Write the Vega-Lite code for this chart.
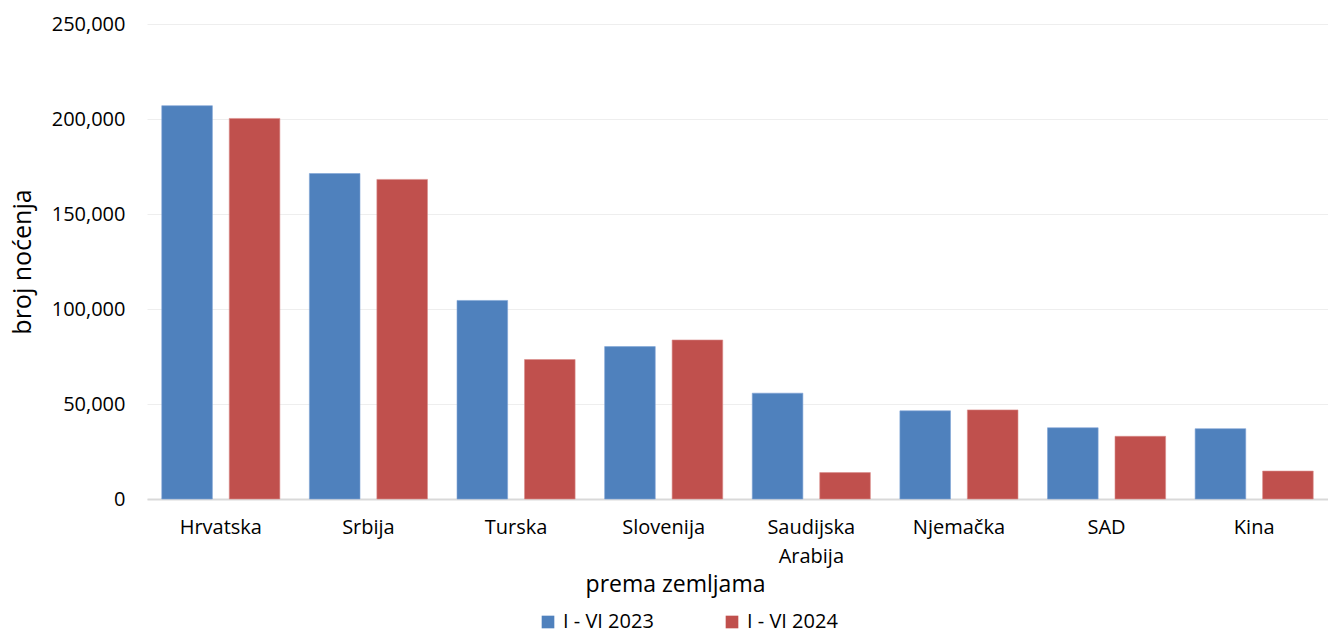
{
  "$schema": "https://vega.github.io/schema/vega-lite/v6.json",
  "autosize": "none",
  "width": 1181,
  "height": 475,
  "padding": {"left": 147, "top": 24, "right": 0, "bottom": 136},
  "background": "white",
  "config": {
    "font": "Open Sans",
    "view": {"stroke": null}
  },
  "data": {
    "values": [
      {"country": "Hrvatska", "period": "I - VI 2023", "value": 207000},
      {"country": "Hrvatska", "period": "I - VI 2024", "value": 200300},
      {"country": "Srbija", "period": "I - VI 2023", "value": 171300},
      {"country": "Srbija", "period": "I - VI 2024", "value": 168200},
      {"country": "Turska", "period": "I - VI 2023", "value": 104500},
      {"country": "Turska", "period": "I - VI 2024", "value": 73400},
      {"country": "Slovenija", "period": "I - VI 2023", "value": 80200},
      {"country": "Slovenija", "period": "I - VI 2024", "value": 83700},
      {"country": "Saudijska Arabija", "period": "I - VI 2023", "value": 55700},
      {"country": "Saudijska Arabija", "period": "I - VI 2024", "value": 13900},
      {"country": "Njemačka", "period": "I - VI 2023", "value": 46400},
      {"country": "Njemačka", "period": "I - VI 2024", "value": 46900},
      {"country": "SAD", "period": "I - VI 2023", "value": 37500},
      {"country": "SAD", "period": "I - VI 2024", "value": 33000},
      {"country": "Kina", "period": "I - VI 2023", "value": 37000},
      {"country": "Kina", "period": "I - VI 2024", "value": 14700}
    ]
  },
  "mark": {"type": "bar", "strokeWidth": 1, "strokeOpacity": 0.6},
  "encoding": {
    "x": {
      "field": "country",
      "type": "nominal",
      "sort": null,
      "scale": {"paddingInner": 0.2, "paddingOuter": 0.1},
      "axis": {
        "title": "prema zemljama",
        "titleFontSize": 23,
        "titleFontWeight": "normal",
        "titleColor": "#000000",
        "titleX": 528,
        "titleY": 92,
        "titleAlign": "center",
        "titleBaseline": "alphabetic",
        "labelFontSize": 20,
        "labelColor": "#000000",
        "labelAngle": 0,
        "labelPadding": 18,
        "labelLineHeight": 29,
        "labelExpr": "datum.label == 'Saudijska Arabija' ? ['Saudijska', 'Arabija'] : datum.label",
        "ticks": false,
        "domainColor": "#D9D9D9",
        "domainWidth": 2,
        "grid": false
      }
    },
    "xOffset": {
      "field": "period",
      "type": "nominal",
      "scale": {"paddingInner": 0.25, "paddingOuter": 0}
    },
    "y": {
      "field": "value",
      "type": "quantitative",
      "scale": {"domain": [0, 250000], "nice": false},
      "axis": {
        "title": "broj noćenja",
        "titleFontSize": 25,
        "titleFontWeight": "normal",
        "titleColor": "#000000",
        "titlePadding": 16,
        "values": [0, 50000, 100000, 150000, 200000, 250000],
        "format": ",d",
        "labelFontSize": 20,
        "labelColor": "#000000",
        "labelPadding": 22,
        "ticks": false,
        "domain": false,
        "gridColor": "#EEEEEE",
        "gridWidth": 1
      }
    },
    "color": {
      "field": "period",
      "type": "nominal",
      "scale": {"domain": ["I - VI 2023", "I - VI 2024"], "range": ["#4F81BD", "#C0504D"]},
      "legend": {
        "title": null,
        "orient": "none",
        "direction": "horizontal",
        "legendX": 391,
        "legendY": 588,
        "symbolType": "square",
        "symbolSize": 160,
        "symbolStrokeWidth": 0,
        "labelFontSize": 20,
        "labelColor": "#000000",
        "columnPadding": 68,
        "labelOffset": 5
      }
    },
    "stroke": {
      "field": "period",
      "type": "nominal",
      "scale": {"domain": ["I - VI 2023", "I - VI 2024"], "range": ["#7FA3D6", "#DB8C8A"]},
      "legend": null
    }
  }
}
